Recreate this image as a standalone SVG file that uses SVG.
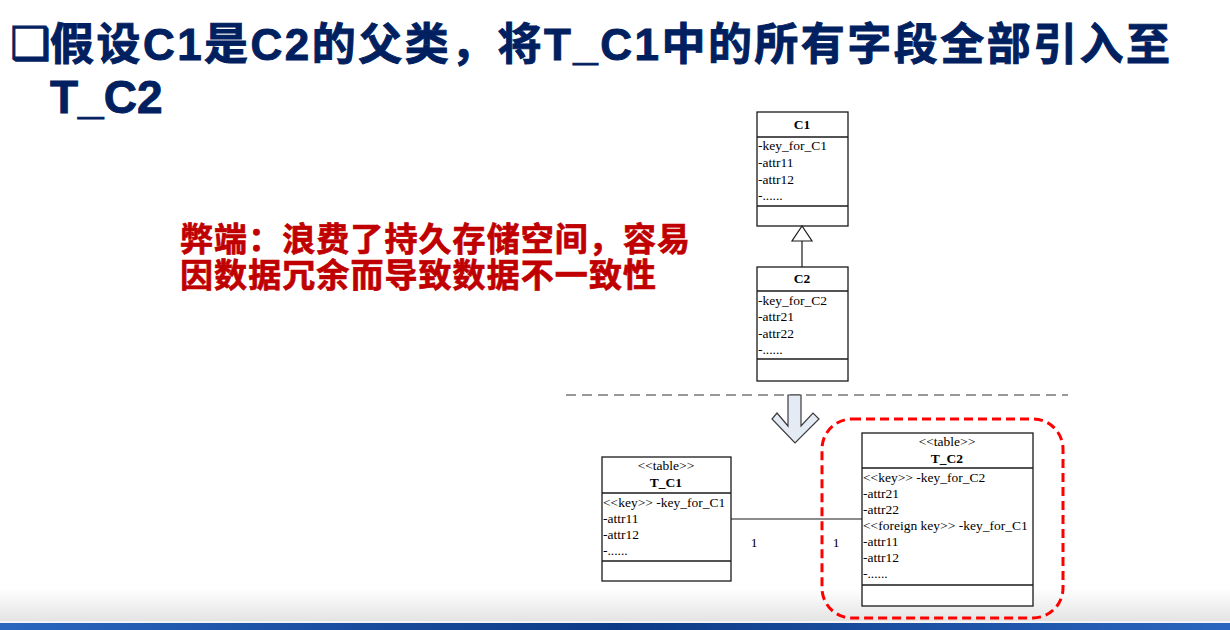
<svg xmlns="http://www.w3.org/2000/svg" width="1230" height="630" viewBox="0 0 1230 630">
  <defs>
    <linearGradient id="floor" x1="0" y1="0" x2="0" y2="1">
      <stop offset="0" stop-color="#ffffff"/>
      <stop offset="1" stop-color="#e4e4e4"/>
    </linearGradient>
    <linearGradient id="band" x1="0" y1="0" x2="1" y2="0">
      <stop offset="0" stop-color="#2a66bf"/>
      <stop offset="0.5" stop-color="#0d3a86"/>
      <stop offset="1" stop-color="#2a66bf"/>
    </linearGradient>
    <style>
      .title { font-family: "Liberation Sans", "Noto Sans CJK SC", sans-serif; font-weight: bold; fill: #002060; stroke: #002060; stroke-width: 0.9; }
      .note { font-family: "Noto Sans CJK SC", sans-serif; font-weight: bold; fill: #c00000; stroke: #c00000; stroke-width: 0.7; font-size: 33px; }
      .box { fill: #ffffff; stroke: #1a1a1a; stroke-width: 1.3; }
      .sep { stroke: #1a1a1a; stroke-width: 1.3; }
      .uml { font-family: "Liberation Serif", serif; font-size: 13.5px; fill: #000000; }
      .name { font-family: "Liberation Serif", serif; font-size: 13.5px; font-weight: bold; fill: #000000; text-anchor: middle; }
      .stereo { text-anchor: middle; }
      .wire { stroke: #1a1a1a; stroke-width: 1.2; fill: none; }
    </style>
  </defs>

  <!-- slide background and footer band -->
  <rect x="0" y="0" width="1230" height="630" fill="#ffffff"/>
  <rect x="0" y="588" width="1230" height="33" fill="url(#floor)"/>
  <rect x="0" y="621" width="1230" height="2" fill="#f4f4f4"/>
  <rect x="0" y="623" width="1230" height="7" fill="url(#band)"/>

  <!-- heading -->
  <g id="heading">
    <text x="10" y="59" font-size="45" style="font-family:'DejaVu Sans',sans-serif; font-weight:bold; fill:#002060; stroke:#002060; stroke-width:1.2">❑</text>
    <text class="title" x="50" y="60" font-size="44" textLength="1120" lengthAdjust="spacing">假设C1是C2的父类，将T_C1中的所有字段全部引入至</text>
    <text class="title" x="50" y="113" font-size="46">T_C2</text>
  </g>

  <!-- drawback note -->
  <g id="note">
    <text class="note"><tspan x="180" y="251" textLength="510" lengthAdjust="spacing">弊端：浪费了持久存储空间，容易</tspan><tspan x="180" y="287" textLength="476" lengthAdjust="spacing">因数据冗余而导致数据不一致性</tspan></text>
  </g>

  <!-- class C1 -->
  <g id="C1">
    <rect class="box" x="757" y="112" width="91" height="114"/>
    <line class="sep" x1="757" y1="137" x2="848" y2="137"/>
    <line class="sep" x1="757" y1="206" x2="848" y2="206"/>
    <text class="name" x="802" y="129">C1</text>
    <text class="uml" x="758" y="150">-key_for_C1</text>
    <text class="uml" x="758" y="167">-attr11</text>
    <text class="uml" x="758" y="184">-attr12</text>
    <text class="uml" x="758" y="200">-......</text>
  </g>

  <!-- class C2 -->
  <g id="C2">
    <rect class="box" x="757" y="267" width="91" height="114"/>
    <line class="sep" x1="757" y1="291" x2="848" y2="291"/>
    <line class="sep" x1="757" y1="359" x2="848" y2="359"/>
    <text class="name" x="802" y="283">C2</text>
    <text class="uml" x="758" y="305">-key_for_C2</text>
    <text class="uml" x="758" y="321">-attr21</text>
    <text class="uml" x="758" y="338">-attr22</text>
    <text class="uml" x="758" y="354">-......</text>
  </g>

  <!-- table T_C1 -->
  <g id="T_C1">
    <rect class="box" x="602" y="457" width="129" height="124"/>
    <line class="sep" x1="602" y1="493" x2="731" y2="493"/>
    <line class="sep" x1="602" y1="561" x2="731" y2="561"/>
    <text class="uml stereo" x="666" y="470">&lt;&lt;table&gt;&gt;</text>
    <text class="name" x="666" y="487">T_C1</text>
    <text class="uml" x="603" y="507">&lt;&lt;key&gt;&gt; -key_for_C1</text>
    <text class="uml" x="603" y="523">-attr11</text>
    <text class="uml" x="603" y="539">-attr12</text>
    <text class="uml" x="603" y="555">-......</text>
  </g>

  <!-- table T_C2 -->
  <g id="T_C2">
    <rect class="box" x="862" y="433" width="171" height="173"/>
    <line class="sep" x1="862" y1="468" x2="1033" y2="468"/>
    <line class="sep" x1="862" y1="585" x2="1033" y2="585"/>
    <text class="uml stereo" x="947" y="446">&lt;&lt;table&gt;&gt;</text>
    <text class="name" x="947" y="463">T_C2</text>
    <text class="uml" x="863" y="482">&lt;&lt;key&gt;&gt; -key_for_C2</text>
    <text class="uml" x="863" y="498">-attr21</text>
    <text class="uml" x="863" y="514">-attr22</text>
    <text class="uml" x="863" y="530">&lt;&lt;foreign key&gt;&gt; -key_for_C1</text>
    <text class="uml" x="863" y="546">-attr11</text>
    <text class="uml" x="863" y="562">-attr12</text>
    <text class="uml" x="863" y="578">-......</text>
  </g>

  <!-- highlight around T_C2 -->
  <g id="highlight">
    <rect x="822" y="419" width="241" height="199" rx="30" ry="30" fill="none" stroke="#ff0000" stroke-width="3" stroke-dasharray="9 5"/>
  </g>

  <!-- connectors -->
  <g id="connectors">
    <!-- generalization C2 -> C1 -->
    <line class="wire" x1="802" y1="241" x2="802" y2="267"/>
    <polygon points="802,226 792,241 812,241" fill="#ffffff" stroke="#1a1a1a" stroke-width="1.2"/>
    <!-- mapping divider -->
    <line x1="566" y1="395" x2="1068" y2="395" stroke="#333333" stroke-width="1.2" stroke-dasharray="10 6"/>
    <!-- transform arrow -->
    <polygon points="788,395 801,395 801,426 813,413 819,419 795,443 772,419 777,413 788,426" fill="#e4ebf5" stroke="#3a3a3a" stroke-width="1.2"/>
    <!-- association T_C1 - T_C2 -->
    <line class="wire" x1="731" y1="519" x2="862" y2="519"/>
    <text class="uml" x="754" y="547" text-anchor="middle">1</text>
    <text class="uml" x="836" y="547" text-anchor="middle">1</text>
  </g>
</svg>
